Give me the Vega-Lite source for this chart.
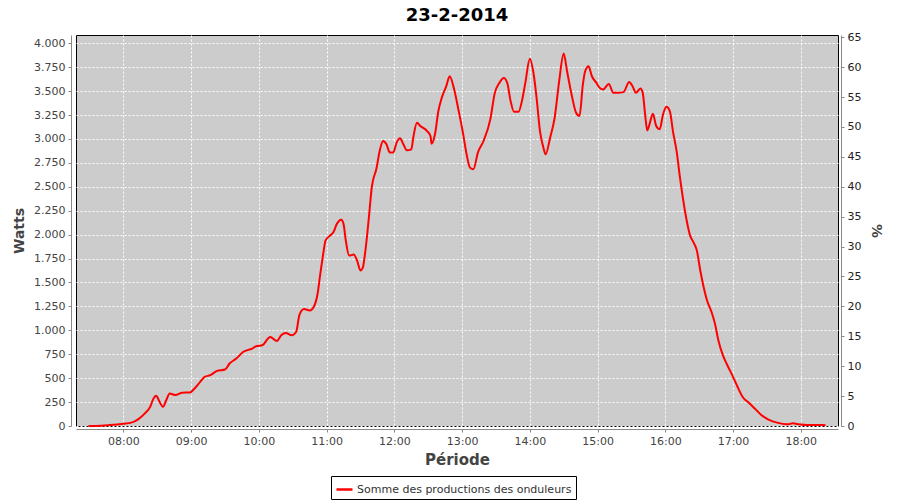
{
  "$schema": "https://vega.github.io/schema/vega-lite/v6.json",
  "width": 762,
  "height": 391,
  "autosize": {"type": "none"},
  "padding": {"left": 76, "top": 35, "right": 62, "bottom": 74},
  "background": "white",
  "title": {"text": "23-2-2014", "font": "DejaVu Sans", "fontSize": 18, "fontWeight": "bold", "color": "black", "anchor": "middle", "offset": 6},
  "config": {
    "view": {"fill": "#CCCCCC", "stroke": "black", "strokeWidth": 1},
    "axis": {
      "labelFont": "DejaVu Sans", "labelFontSize": 11, "labelColor": "#444444",
      "titleFont": "DejaVu Sans", "titleFontSize": 14, "titleFontWeight": "bold", "titleColor": "#444444",
      "domainColor": "#888888", "tickColor": "#888888", "tickSize": 3,
      "gridColor": "white", "gridDash": [2, 2], "gridOpacity": 1, "gridWidth": 1
    }
  },
  "layer": [
    {
      "data": {"values": [
        {"t": "2014-02-23T07:29", "w": 0}, {"t": "2014-02-23T07:40", "w": 3}, {"t": "2014-02-23T07:48", "w": 10},
        {"t": "2014-02-23T08:00", "w": 24}, {"t": "2014-02-23T08:07", "w": 35}, {"t": "2014-02-23T08:13", "w": 70},
        {"t": "2014-02-23T08:19", "w": 132}, {"t": "2014-02-23T08:24", "w": 208}, {"t": "2014-02-23T08:26", "w": 271},
        {"t": "2014-02-23T08:29", "w": 316}, {"t": "2014-02-23T08:32", "w": 253}, {"t": "2014-02-23T08:35", "w": 201},
        {"t": "2014-02-23T08:38", "w": 271}, {"t": "2014-02-23T08:41", "w": 340}, {"t": "2014-02-23T08:46", "w": 323},
        {"t": "2014-02-23T08:52", "w": 347}, {"t": "2014-02-23T08:59", "w": 351}, {"t": "2014-02-23T09:03", "w": 392},
        {"t": "2014-02-23T09:08", "w": 462}, {"t": "2014-02-23T09:12", "w": 514}, {"t": "2014-02-23T09:17", "w": 531},
        {"t": "2014-02-23T09:23", "w": 576}, {"t": "2014-02-23T09:30", "w": 590}, {"t": "2014-02-23T09:34", "w": 653},
        {"t": "2014-02-23T09:40", "w": 705}, {"t": "2014-02-23T09:46", "w": 774}, {"t": "2014-02-23T09:54", "w": 809},
        {"t": "2014-02-23T09:58", "w": 836}, {"t": "2014-02-23T10:03", "w": 844}, {"t": "2014-02-23T10:10", "w": 930},
        {"t": "2014-02-23T10:16", "w": 889}, {"t": "2014-02-23T10:20", "w": 951}, {"t": "2014-02-23T10:24", "w": 972},
        {"t": "2014-02-23T10:29", "w": 948}, {"t": "2014-02-23T10:33", "w": 982}, {"t": "2014-02-23T10:36", "w": 1165},
        {"t": "2014-02-23T10:40", "w": 1222}, {"t": "2014-02-23T10:45", "w": 1208}, {"t": "2014-02-23T10:49", "w": 1255},
        {"t": "2014-02-23T10:52", "w": 1382}, {"t": "2014-02-23T10:54", "w": 1555}, {"t": "2014-02-23T10:57", "w": 1799},
        {"t": "2014-02-23T10:59", "w": 1938}, {"t": "2014-02-23T11:03", "w": 1990}, {"t": "2014-02-23T11:06", "w": 2024},
        {"t": "2014-02-23T11:09", "w": 2111}, {"t": "2014-02-23T11:13", "w": 2156}, {"t": "2014-02-23T11:15", "w": 2111},
        {"t": "2014-02-23T11:17", "w": 1938}, {"t": "2014-02-23T11:20", "w": 1781}, {"t": "2014-02-23T11:24", "w": 1792},
        {"t": "2014-02-23T11:27", "w": 1729}, {"t": "2014-02-23T11:30", "w": 1625}, {"t": "2014-02-23T11:32", "w": 1653},
        {"t": "2014-02-23T11:34", "w": 1799}, {"t": "2014-02-23T11:36", "w": 2007}, {"t": "2014-02-23T11:38", "w": 2250},
        {"t": "2014-02-23T11:40", "w": 2493}, {"t": "2014-02-23T11:41", "w": 2562}, {"t": "2014-02-23T11:44", "w": 2684},
        {"t": "2014-02-23T11:47", "w": 2875}, {"t": "2014-02-23T11:50", "w": 2979}, {"t": "2014-02-23T11:53", "w": 2945},
        {"t": "2014-02-23T11:56", "w": 2858}, {"t": "2014-02-23T11:59", "w": 2858}, {"t": "2014-02-23T12:02", "w": 2962},
        {"t": "2014-02-23T12:05", "w": 3007}, {"t": "2014-02-23T12:08", "w": 2945}, {"t": "2014-02-23T12:11", "w": 2882},
        {"t": "2014-02-23T12:15", "w": 2892}, {"t": "2014-02-23T12:17", "w": 3031}, {"t": "2014-02-23T12:20", "w": 3170},
        {"t": "2014-02-23T12:23", "w": 3135}, {"t": "2014-02-23T12:29", "w": 3083}, {"t": "2014-02-23T12:32", "w": 3031},
        {"t": "2014-02-23T12:33", "w": 2951}, {"t": "2014-02-23T12:36", "w": 3049}, {"t": "2014-02-23T12:39", "w": 3292},
        {"t": "2014-02-23T12:42", "w": 3430}, {"t": "2014-02-23T12:46", "w": 3552}, {"t": "2014-02-23T12:49", "w": 3656},
        {"t": "2014-02-23T12:53", "w": 3518}, {"t": "2014-02-23T12:57", "w": 3292}, {"t": "2014-02-23T13:01", "w": 3049},
        {"t": "2014-02-23T13:04", "w": 2840}, {"t": "2014-02-23T13:07", "w": 2701}, {"t": "2014-02-23T13:10", "w": 2684},
        {"t": "2014-02-23T13:14", "w": 2858}, {"t": "2014-02-23T13:19", "w": 2979}, {"t": "2014-02-23T13:25", "w": 3205},
        {"t": "2014-02-23T13:29", "w": 3482}, {"t": "2014-02-23T13:33", "w": 3586}, {"t": "2014-02-23T13:37", "w": 3638},
        {"t": "2014-02-23T13:40", "w": 3586}, {"t": "2014-02-23T13:43", "w": 3396}, {"t": "2014-02-23T13:46", "w": 3284},
        {"t": "2014-02-23T13:50", "w": 3284}, {"t": "2014-02-23T13:53", "w": 3396}, {"t": "2014-02-23T13:56", "w": 3586},
        {"t": "2014-02-23T14:00", "w": 3840}, {"t": "2014-02-23T14:03", "w": 3708}, {"t": "2014-02-23T14:06", "w": 3430},
        {"t": "2014-02-23T14:09", "w": 3083}, {"t": "2014-02-23T14:12", "w": 2910}, {"t": "2014-02-23T14:14", "w": 2840},
        {"t": "2014-02-23T14:18", "w": 3014}, {"t": "2014-02-23T14:22", "w": 3222}, {"t": "2014-02-23T14:26", "w": 3604},
        {"t": "2014-02-23T14:30", "w": 3893}, {"t": "2014-02-23T14:33", "w": 3708}, {"t": "2014-02-23T14:37", "w": 3465},
        {"t": "2014-02-23T14:41", "w": 3274}, {"t": "2014-02-23T14:44", "w": 3240}, {"t": "2014-02-23T14:47", "w": 3570},
        {"t": "2014-02-23T14:49", "w": 3708}, {"t": "2014-02-23T14:52", "w": 3760}, {"t": "2014-02-23T14:55", "w": 3656},
        {"t": "2014-02-23T14:59", "w": 3586}, {"t": "2014-02-23T15:02", "w": 3534}, {"t": "2014-02-23T15:05", "w": 3518},
        {"t": "2014-02-23T15:10", "w": 3576}, {"t": "2014-02-23T15:14", "w": 3483}, {"t": "2014-02-23T15:18", "w": 3483},
        {"t": "2014-02-23T15:23", "w": 3490}, {"t": "2014-02-23T15:28", "w": 3597}, {"t": "2014-02-23T15:31", "w": 3552},
        {"t": "2014-02-23T15:34", "w": 3483}, {"t": "2014-02-23T15:38", "w": 3528}, {"t": "2014-02-23T15:40", "w": 3483},
        {"t": "2014-02-23T15:42", "w": 3274}, {"t": "2014-02-23T15:44", "w": 3090}, {"t": "2014-02-23T15:46", "w": 3152},
        {"t": "2014-02-23T15:49", "w": 3264}, {"t": "2014-02-23T15:52", "w": 3135}, {"t": "2014-02-23T15:55", "w": 3101},
        {"t": "2014-02-23T15:58", "w": 3257}, {"t": "2014-02-23T16:01", "w": 3337}, {"t": "2014-02-23T16:04", "w": 3292},
        {"t": "2014-02-23T16:07", "w": 3066}, {"t": "2014-02-23T16:10", "w": 2875}, {"t": "2014-02-23T16:13", "w": 2600},
        {"t": "2014-02-23T16:16", "w": 2354}, {"t": "2014-02-23T16:19", "w": 2146}, {"t": "2014-02-23T16:22", "w": 1990},
        {"t": "2014-02-23T16:25", "w": 1920}, {"t": "2014-02-23T16:28", "w": 1833}, {"t": "2014-02-23T16:31", "w": 1625},
        {"t": "2014-02-23T16:34", "w": 1451}, {"t": "2014-02-23T16:37", "w": 1312}, {"t": "2014-02-23T16:41", "w": 1191},
        {"t": "2014-02-23T16:44", "w": 1070}, {"t": "2014-02-23T16:47", "w": 896}, {"t": "2014-02-23T16:51", "w": 740},
        {"t": "2014-02-23T16:55", "w": 635}, {"t": "2014-02-23T17:00", "w": 514}, {"t": "2014-02-23T17:04", "w": 410},
        {"t": "2014-02-23T17:09", "w": 295}, {"t": "2014-02-23T17:14", "w": 243}, {"t": "2014-02-23T17:20", "w": 174},
        {"t": "2014-02-23T17:25", "w": 115}, {"t": "2014-02-23T17:31", "w": 70}, {"t": "2014-02-23T17:39", "w": 35},
        {"t": "2014-02-23T17:48", "w": 17}, {"t": "2014-02-23T17:53", "w": 28}, {"t": "2014-02-23T17:59", "w": 17},
        {"t": "2014-02-23T18:05", "w": 10}, {"t": "2014-02-23T18:19", "w": 10}, {"t": "2014-02-23T18:22", "w": 8}
      ]},
      "mark": {"type": "line", "strokeWidth": 2, "interpolate": "monotone"},
      "encoding": {
        "x": {
          "field": "t", "type": "temporal",
          "scale": {"domain": [
            {"year": 2014, "month": 2, "date": 23, "hours": 7, "minutes": 18},
            {"year": 2014, "month": 2, "date": 23, "hours": 18, "minutes": 33}
          ]},
          "axis": {
            "title": "Période", "titleFontSize": 15, "titlePadding": 6, "offset": 3, "format": "%H:%M", "labelPadding": 3,
            "values": [
              {"year": 2014, "month": 2, "date": 23, "hours": 8}, {"year": 2014, "month": 2, "date": 23, "hours": 9},
              {"year": 2014, "month": 2, "date": 23, "hours": 10}, {"year": 2014, "month": 2, "date": 23, "hours": 11},
              {"year": 2014, "month": 2, "date": 23, "hours": 12}, {"year": 2014, "month": 2, "date": 23, "hours": 13},
              {"year": 2014, "month": 2, "date": 23, "hours": 14}, {"year": 2014, "month": 2, "date": 23, "hours": 15},
              {"year": 2014, "month": 2, "date": 23, "hours": 16}, {"year": 2014, "month": 2, "date": 23, "hours": 17},
              {"year": 2014, "month": 2, "date": 23, "hours": 18}
            ]
          }
        },
        "y": {
          "field": "w", "type": "quantitative",
          "scale": {"domain": [0, 4087], "nice": false, "zero": true},
          "axis": {
            "title": "Watts", "offset": 5, "titlePadding": 7, "labelPadding": 3,
            "values": [0, 250, 500, 750, 1000, 1250, 1500, 1750, 2000, 2250, 2500, 2750, 3000, 3250, 3500, 3750, 4000],
            "labelExpr": "replace(format(datum.value, ','), ',', '.')"
          }
        },
        "color": {
          "datum": "Somme des productions des onduleurs", "type": "nominal",
          "scale": {"range": ["#FF0000"]},
          "legend": {
            "title": null, "orient": "none", "legendX": 255, "legendY": 441,
            "strokeColor": "black", "fillColor": "white", "padding": 4,
            "symbolType": "stroke", "symbolSize": 256, "symbolStrokeWidth": 2.5,
            "labelFont": "DejaVu Sans", "labelFontSize": 11, "labelColor": "#333333", "labelOffset": 3, "labelLimit": 0
          }
        }
      }
    },
    {
      "data": {"values": [{"pct": 0}]},
      "mark": {"type": "point", "opacity": 0},
      "encoding": {
        "y": {
          "field": "pct", "type": "quantitative",
          "scale": {"domain": [0, 65.38], "nice": false},
          "axis": {
            "orient": "right", "title": "%", "offset": 3, "grid": false, "labelColor": "#222222", "labelPadding": 3, "titlePadding": 8,
            "values": [0, 5, 10, 15, 20, 25, 30, 35, 40, 45, 50, 55, 60, 65]
          }
        }
      }
    }
  ],
  "resolve": {"scale": {"y": "independent"}}
}
